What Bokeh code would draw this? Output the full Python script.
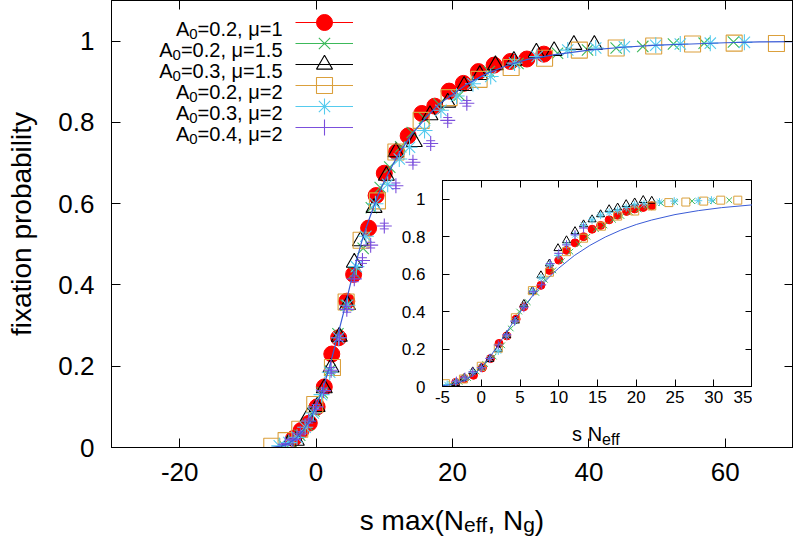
from bokeh.plotting import figure
from bokeh.models import (Range1d, LinearAxis, FixedTicker, CustomJSTickFormatter, Label,
                          Legend, LegendItem, Column, CustomLabelingPolicy)
from bokeh.embed import file_html
from bokeh.resources import INLINE
from bokeh.core.properties import value

FONT = "Liberation Sans"

# ---------------- data: main panel (x = s max(N_eff, N_g)) ----------------
labels = ["=0.2, \u03bc=1", "=0.2, \u03bc=1.5", "=0.3, \u03bc=1.5", "=0.2, \u03bc=2", "=0.3, \u03bc=2", "=0.4, \u03bc=2"]

red_x = [-3.3, -2.2, -1.0, 0.15, 1.2, 2.3, 3.3, 4.5, 5.5, 7.7, 8.8, 10.0, 11.8, 13.5, 15.5, 17.4, 19.5, 21.6, 23.8, 26.1, 28.5, 30.9, 33.4]
red_y = [0.022, 0.042, 0.06, 0.10, 0.149, 0.23, 0.27, 0.36, 0.426, 0.54, 0.62, 0.675, 0.727, 0.767, 0.822, 0.84, 0.877, 0.896, 0.925, 0.941, 0.95, 0.956, 0.968]

grn_x = [-4.7, -3.6, -2.4, -1.3, -0.3, 0.9, 2.0, 3.2, 4.4, 5.6, 6.9, 8.1, 9.4, 10.8, 12.4, 14.1, 15.9, 18.0, 21.0, 25.4, 29.6, 35.4, 39.8, 44.0, 47.9, 52.4, 56.9, 61.2]
grn_y = [0.005, 0.013, 0.03, 0.055, 0.09, 0.135, 0.19, 0.28, 0.35, 0.43, 0.49, 0.59, 0.64, 0.69, 0.74, 0.775, 0.81, 0.845, 0.867, 0.925, 0.945, 0.97, 0.978, 0.983, 0.987, 0.993, 0.995, 0.998]

tri_x = [-4.1, -2.9, -1.2, 0.15, 1.2, 2.2, 3.4, 4.6, 5.6, 6.5, 8.5, 10.3, 11.7, 14.4, 16.7, 19.3, 21.7, 24.0, 26.3, 29.0, 32.3, 34.9, 37.8, 40.8]
tri_y = [0.008, 0.017, 0.075, 0.10, 0.146, 0.197, 0.273, 0.351, 0.455, 0.508, 0.59, 0.669, 0.727, 0.752, 0.818, 0.849, 0.89, 0.917, 0.941, 0.952, 0.972, 0.976, 0.991, 0.991]

sq_x = [-6.5, -4.4, -2.4, -0.2, 2.4, 4.4, 6.6, 9.0, 11.7, 15.4, 19.5, 23.9, 28.6, 33.5, 38.6, 44.0, 49.5, 55.2, 61.3, 67.5]
sq_y = [0.003, 0.017, 0.045, 0.106, 0.197, 0.358, 0.51, 0.607, 0.727, 0.805, 0.861, 0.906, 0.935, 0.958, 0.978, 0.983, 0.988, 0.993, 0.995, 0.994]

cy_x = [-5.4, -4.0, -2.8, -1.6, -0.4, 0.8, 2.0, 3.3, 4.6, 5.9, 7.3, 8.7, 10.5, 12.2, 13.7, 15.9, 18.3, 20.6, 23.0, 25.6, 29.1, 32.4, 36.9, 41.0, 45.2, 49.8, 53.4, 57.8, 62.8]
cy_y = [0.004, 0.012, 0.025, 0.05, 0.085, 0.13, 0.185, 0.27, 0.35, 0.445, 0.52, 0.60, 0.648, 0.71, 0.739, 0.78, 0.83, 0.865, 0.895, 0.913, 0.946, 0.962, 0.978, 0.983, 0.986, 0.99, 0.993, 0.995, 0.997]

pu_x = [-4.5, -3.4, -2.3, -1.1, 0.0, 1.1, 2.2, 3.4, 4.5, 5.6, 6.8, 8.0, 10.0, 11.7, 14.2, 16.8, 19.3, 22.1]
pu_y = [0.008, 0.02, 0.035, 0.065, 0.10, 0.14, 0.19, 0.27, 0.34, 0.415, 0.46, 0.498, 0.545, 0.644, 0.702, 0.748, 0.805, 0.847]
pu_err = [0.002, 0.003, 0.004, 0.005, 0.006, 0.006, 0.007, 0.007, 0.007, 0.007, 0.007, 0.007, 0.007, 0.007, 0.007, 0.007, 0.007, 0.007]

line_x = [-6.6, -5, -4, -3, -2, -1, 0, 1, 2, 3, 4, 5, 6, 7, 8, 9, 10, 12, 14, 16, 18, 20, 22, 25, 28, 31, 35, 40, 45, 50, 55, 60, 65, 70]
line_y = [0.0, 0.004, 0.01, 0.022, 0.04, 0.065, 0.1, 0.145, 0.2, 0.265, 0.33, 0.4, 0.465, 0.525, 0.572, 0.617, 0.655, 0.72, 0.77, 0.81, 0.845, 0.868, 0.893, 0.92, 0.94, 0.955, 0.967, 0.978, 0.985, 0.99, 0.993, 0.996, 0.998, 0.999]

# ---------------- data: inset (x = s N_eff) ----------------
i_red_x = [-3.3, -2.2, -1.0, 0.15, 1.2, 2.3, 3.3, 4.5, 5.5, 7.7, 8.8, 10.0, 11.0, 12.1, 13.2, 14.3, 15.4, 16.5, 17.6, 18.75, 19.8, 20.9, 22.0]
i_red_y = [0.022, 0.042, 0.06, 0.10, 0.149, 0.23, 0.27, 0.36, 0.426, 0.54, 0.62, 0.675, 0.727, 0.767, 0.80, 0.84, 0.86, 0.89, 0.915, 0.935, 0.948, 0.956, 0.965]

i_grn_x = [-5.0, -3.9, -2.8, -1.7, -0.6, 0.5, 1.6, 2.7, 3.8, 4.9, 6.0, 7.1, 8.2, 9.3, 10.4, 11.5, 12.6, 13.7, 14.8, 15.9, 17.0, 18.1, 19.2, 20.3, 21.4, 23.2, 25.0, 27.2, 29.9, 32.0]
i_grn_y = [0.0, 0.012, 0.025, 0.045, 0.08, 0.12, 0.16, 0.22, 0.31, 0.40, 0.45, 0.50, 0.57, 0.62, 0.67, 0.72, 0.76, 0.80, 0.84, 0.86, 0.89, 0.91, 0.93, 0.945, 0.96, 0.98, 0.985, 0.99, 0.99, 0.995]

i_tri_x = [-3.3, -2.2, -1.1, 0.0, 1.1, 2.2, 3.3, 4.4, 5.5, 6.6, 7.7, 8.8, 9.9, 11.0, 12.1, 13.2, 14.3, 15.4, 16.5, 17.6, 18.7, 19.8, 20.9, 22.0]
i_tri_y = [0.017, 0.045, 0.08, 0.10, 0.146, 0.20, 0.273, 0.351, 0.44, 0.51, 0.593, 0.656, 0.738, 0.78, 0.829, 0.865, 0.892, 0.919, 0.946, 0.955, 0.973, 0.982, 0.995, 0.991]

i_sq_x = [-4.6, -2.3, 0.0, 2.2, 4.4, 6.6, 8.8, 11.0, 13.2, 15.5, 17.6, 19.8, 22.0, 24.2, 26.4, 28.7, 30.9, 33.1]
i_sq_y = [0.015, 0.04, 0.108, 0.204, 0.367, 0.512, 0.61, 0.72, 0.792, 0.856, 0.91, 0.937, 0.964, 0.982, 0.985, 0.99, 0.995, 0.995]

i_cy_x = [-4.4, -3.3, -2.2, -1.1, 0.0, 1.1, 2.2, 3.3, 4.4, 5.5, 6.6, 7.7, 8.8, 9.9, 11.0, 12.1, 13.2, 14.3, 15.4, 16.5, 17.6, 18.7, 19.8, 21.0, 23.0, 24.9, 28.0, 29.7]
i_cy_y = [0.01, 0.025, 0.045, 0.075, 0.10, 0.15, 0.19, 0.27, 0.35, 0.43, 0.51, 0.58, 0.65, 0.70, 0.76, 0.81, 0.86, 0.89, 0.915, 0.93, 0.94, 0.955, 0.97, 0.975, 0.985, 0.99, 0.992, 0.995]

i_pu_x = [-3.2, -2.1, -1.1, 0.0, 1.1, 2.2, 3.3, 4.3, 5.5, 6.7, 7.8, 8.9, 10.0, 11.0, 12.1, 13.2]
i_pu_y = [0.029, 0.05, 0.078, 0.10, 0.15, 0.222, 0.277, 0.349, 0.421, 0.506, 0.543, 0.656, 0.711, 0.756, 0.81, 0.846]

i_line_x = [-5, -4, -3, -2, -1, 0, 1, 2, 3, 4, 5, 6, 7, 8, 9, 10, 12, 14, 16, 18, 20, 22, 25, 28, 31, 35]
i_line_y = [0.004, 0.009, 0.018, 0.035, 0.061, 0.1, 0.151, 0.21, 0.273, 0.336, 0.396, 0.452, 0.504, 0.551, 0.594, 0.632, 0.699, 0.753, 0.798, 0.835, 0.865, 0.889, 0.918, 0.939, 0.955, 0.970]

main_xticks = [-20, 0, 20, 40, 60]
main_yticks = [0, 0.2, 0.4, 0.6, 0.8, 1]
ins_xticks = [-5, 0, 5, 10, 15, 20, 25, 30, 35]
ins_yticks = [0, 0.2, 0.4, 0.6, 0.8, 1]

C_RED, C_GRN, C_BLK, C_ORG, C_CYN, C_PUR, C_LINE = "#ff0000", "#3cb95a", "#000000", "#dba03c", "#55cbee", "#7b4fdc", "#3a5bd6"

# Arial/Liberation Sans advance widths (1/1000 em) for composing sub-scripted labels
W = {' ': 278, '(': 333, ')': 333, ',': 278, '.': 278, '=': 584, 'A': 667, 'N': 722, 'a': 556, 'e': 556,
     'f': 278, 'g': 556, 'm': 833, 's': 500, 'x': 500, '\u03bc': 577}
for d in "0123456789":
    W[d] = 556


def tw(s, size):
    return sum(W.get(c, 556) for c in s) / 1000.0 * size


def put(fig, text, x, y, size, align="left"):
    fig.add_layout(Label(x=x, y=y, x_units="screen", y_units="screen", text=text, text_font=FONT,
                         text_font_size=f"{size}px", text_align=align, text_baseline="alphabetic",
                         text_color="black"))


HIDE = CustomLabelingPolicy(code="for (const i of Array.from(indices)) { indices.unset(i) }\nreturn indices")


def style_axes(fig, xt, yt, fsize, tick_len, xstand, ystand):
    fmt = CustomJSTickFormatter(code="return String(Math.round(tick*10)/10)")
    for ax, t in ((fig.xaxis[0], xt), (fig.yaxis[0], yt)):
        ax.ticker = FixedTicker(ticks=t)
        ax.formatter = fmt
        ax.major_tick_in = tick_len
        ax.major_tick_out = 0
        ax.minor_tick_line_color = None
        ax.axis_line_color = "black"
        ax.major_tick_line_color = "black"
        ax.major_label_text_font = FONT
        ax.major_label_text_font_size = f"{fsize}px"
        ax.major_label_text_color = "black"
    fig.xaxis[0].major_label_standoff = xstand
    fig.yaxis[0].major_label_standoff = ystand
    # mirrored tick marks on top and right (gnuplot border ticks), no labels
    for loc, t in (("above", xt), ("right", yt)):
        ax = LinearAxis(ticker=FixedTicker(ticks=t), major_tick_in=tick_len, major_tick_out=0,
                        minor_tick_line_color=None, major_label_text_font_size="0px",
                        major_label_standoff=0, axis_line_color="black", major_label_policy=HIDE)
        fig.add_layout(ax, loc)
    fig.xgrid.visible = False
    fig.ygrid.visible = False
    fig.outline_line_color = "black"
    fig.outline_line_width = 1


def text_fig(w, h, left, top):
    f = figure(width=w, height=h, output_backend="svg", toolbar_location=None,
               x_axis_type=None, y_axis_type=None, x_range=Range1d(0, 1), y_range=Range1d(0, 1),
               min_border=0, frame_align=False)
    f.outline_line_color = None
    f.background_fill_alpha = 0
    f.border_fill_alpha = 0
    f.xgrid.visible = False
    f.ygrid.visible = False
    f.styles = {"position": "absolute", "left": f"{left}px", "top": f"{top}px"}
    return f


# ---------------- main figure ----------------
p = figure(width=793, height=539, output_backend="svg", toolbar_location=None,
           x_range=Range1d(-30, 70), y_range=Range1d(0, 1.1), frame_align=False,
           min_border_left=111, min_border_right=0, min_border_top=0, min_border_bottom=92)
p.background_fill_color = "white"
p.border_fill_color = "white"
style_axes(p, main_xticks, main_yticks, 26, 9, 15, 17)
p.yaxis[0].axis_label = "fixation probability"
p.yaxis[0].axis_label_text_font = FONT
p.yaxis[0].axis_label_text_font_size = "28px"
p.yaxis[0].axis_label_text_font_style = "normal"
p.yaxis[0].axis_label_text_color = "black"
p.yaxis[0].axis_label_standoff = 18

series_main = [
    (red_x, red_y, C_RED, ["circle"], 16),
    (grn_x, grn_y, C_GRN, ["x"], 16),
    (tri_x, tri_y, C_BLK, ["triangle"], 16),
    (sq_x, sq_y, C_ORG, ["square"], 16),
    (cy_x, cy_y, C_CYN, ["cross", "x"], 16),
    (pu_x, pu_y, C_PUR, ["cross"], 15),
]
FL, FB = 111, 447
for i, (xs, ys, col, markers, sz) in enumerate(series_main):
    seg = p.segment(x0=xs, y0=ys, x1=xs, y1=ys, line_color=col, line_width=1)
    rs = [seg]
    for m in markers:
        if m == "circle":
            r = p.scatter(xs, ys, marker="circle", size=sz, fill_color=col, line_color=col)
        else:
            r = p.scatter(xs, ys, marker=m, size=sz, fill_color=None, line_color=col, line_width=1.1)
        rs.append(r)
    # one single-row key per series (gnuplot style key: text, then sample)
    center = 21.7 + 21 * i
    leg = Legend(items=[LegendItem(label=value(" "), renderers=rs)],
                 location=(184, round(FB - center - 20)), glyph_width=58, glyph_height=40,
                 label_height=40, spacing=0, padding=0, margin=0, label_width=0, label_standoff=0,
                 border_line_color=None, background_fill_alpha=0, label_text_font_size="2px")
    p.add_layout(leg)

# error bars of the purple series (visible as small caps around the '+')
pu_lo = [y - e for y, e in zip(pu_y, pu_err)]
pu_hi = [y + e for y, e in zip(pu_y, pu_err)]
p.segment(x0=pu_x, y0=pu_lo, x1=pu_x, y1=pu_hi, line_color=C_PUR, line_width=1)
p.scatter(pu_x, pu_lo, marker="dash", size=9, line_color=C_PUR, line_width=1)
p.scatter(pu_x, pu_hi, marker="dash", size=9, line_color=C_PUR, line_width=1)

p.line(line_x, line_y, line_color=C_LINE, line_width=1.2)

# key texts (right aligned), frame-relative screen coordinates
for i, rest in enumerate(labels):
    base = 28.3 + 21 * i
    xr = 282 - FL
    put(p, rest, xr, FB - base, 20, "right")
    xr0 = xr - tw(rest, 20)
    put(p, "0", xr0, FB - base - 5, 15, "right")
    put(p, "A", xr0 - tw("0", 15), FB - base, 20, "right")

# x axis label with subscripts (overlay text figure)
TX_L, TX_T, TX_W, TX_H = 300, 478, 300, 61
tx = text_fig(TX_W, TX_H, TX_L, TX_T)
parts = [("s max(N", 28, 0), ("eff", 21, 4.5), (", N", 28, 0), ("g", 21, 4.5), (")", 28, 0)]
total = sum(tw(t, s) for t, s, _ in parts)
cx = (111 + 792) / 2.0 - total / 2.0 - TX_L
for t, s, dy in parts:
    put(tx, t, cx, TX_T + TX_H - 519.5 - dy, s, "left")
    cx += tw(t, s)

# ---------------- inset figure ----------------
IN_L, IN_T = 392, 180
q = figure(width=360, height=264, output_backend="svg", toolbar_location=None,
           x_range=Range1d(-5, 35), y_range=Range1d(0, 1.1), frame_align=False,
           min_border_left=50, min_border_right=0, min_border_top=0, min_border_bottom=58)
q.background_fill_color = "white"
q.border_fill_alpha = 0
style_axes(q, ins_xticks, ins_yticks, 17, 7, 4, 17)
q.styles = {"position": "absolute", "left": f"{IN_L}px", "top": f"{IN_T}px"}

series_ins = [
    (i_red_x, i_red_y, C_RED, ["circle"], 8),
    (i_grn_x, i_grn_y, C_GRN, ["x"], 8),
    (i_tri_x, i_tri_y, C_BLK, ["triangle"], 8),
    (i_sq_x, i_sq_y, C_ORG, ["square"], 8),
    (i_cy_x, i_cy_y, C_CYN, ["cross", "x"], 8),
    (i_pu_x, i_pu_y, C_PUR, ["cross"], 9),
]
for (xs, ys, col, markers, sz) in series_ins:
    for m in markers:
        if m == "circle":
            q.scatter(xs, ys, marker="circle", size=sz, fill_color=col, line_color=col)
        else:
            q.scatter(xs, ys, marker=m, size=sz, fill_color=None, line_color=col, line_width=1)
q.line(i_line_x, i_line_y, line_color=C_LINE, line_width=1)

# inset x label overlay
IX_L, IX_T, IX_W, IX_H = 540, 405, 120, 50
ix = text_fig(IX_W, IX_H, IX_L, IX_T)
iparts = [("s N", 20, 0), ("eff", 16, 6)]
itot = sum(tw(t, s) for t, s, _ in iparts)
cx = (442 + 749) / 2.0 - itot / 2.0 - IX_L
for t, s, dy in iparts:
    put(ix, t, cx, IX_T + IX_H - 433.3 - dy, s, "left")
    cx += tw(t, s)

layout = Column(children=[p, q, tx, ix], spacing=0)
layout.styles = {"position": "relative"}

open("out.html", "w").write(file_html(layout, INLINE))
